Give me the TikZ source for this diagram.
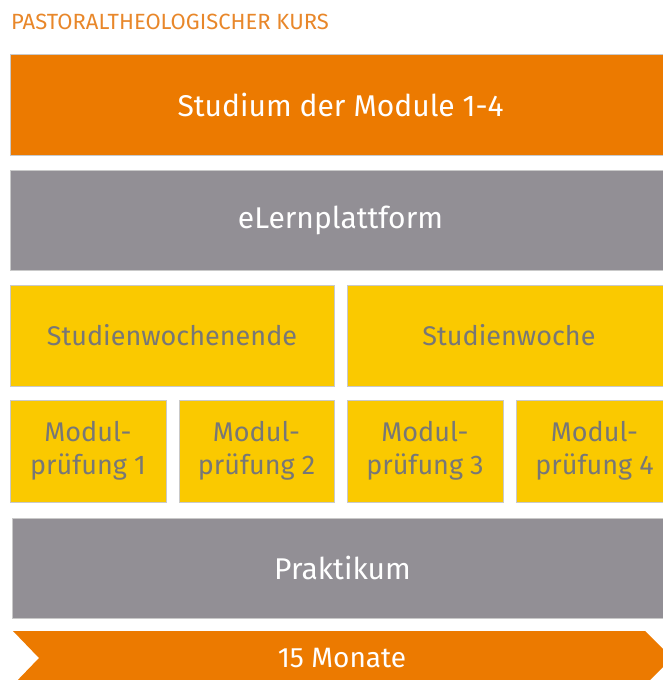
\documentclass[tikz,border=0pt]{standalone}
\usepackage{fontspec}
\setmainfont{Fira Sans}
\definecolor{korange}{HTML}{EC7A00}
\definecolor{ktitle}{HTML}{E8872A}
\definecolor{kgray}{HTML}{928F95}
\definecolor{kyellow}{HTML}{FAC900}
\definecolor{ktext}{HTML}{777777}
\definecolor{kedge}{HTML}{C9C9C9}
\tikzset{
  kbox/.style={draw=kedge, line width=0.8pt, inner sep=0pt},
  obox/.style={kbox, fill=korange, text=white, font=\fontsize{30}{36}\selectfont},
  gbox/.style={kbox, fill=kgray, text=white, font=\fontsize{30}{36}\selectfont},
  ybox/.style={kbox, fill=kyellow, text=ktext, align=center, font=\fontsize{27}{33}\selectfont},
}
\begin{document}
\begin{tikzpicture}[x=1pt,y=-1pt]
\useasboundingbox (0,0) rectangle (662,680);
\node[anchor=west, text=ktitle, inner sep=0pt, font=\fontsize{22}{26}\selectfont] (title) at (11,22) {PASTORALTHEOLOGISCHER KURS};
\node[obox, minimum width=661pt, minimum height=101pt] (studium) at (340.5,104.5) {Studium der Module 1-4};
\node[gbox, minimum width=661pt, minimum height=100pt] (elern) at (340.5,220) {eLernplattform};
\node[ybox, minimum width=324pt, minimum height=101pt] (swe) at (172,335.5) {Studienwochenende};
\node[ybox, minimum width=324pt, minimum height=101pt] (sw) at (509,335.5) {Studienwoche};
\node[ybox, minimum width=156pt, minimum height=102pt] (m1) at (88,451) {Modul-\\prüfung 1};
\node[ybox, minimum width=155pt, minimum height=102pt] (m2) at (256.5,451) {Modul-\\prüfung 2};
\node[ybox, minimum width=156pt, minimum height=102pt] (m3) at (425,451) {Modul-\\prüfung 3};
\node[ybox, minimum width=157pt, minimum height=102pt] (m4) at (594.5,451) {Modul-\\prüfung 4};
\node[gbox, minimum width=661pt, minimum height=100pt] (prak) at (342.5,568) {Praktikum};
\fill[korange] (13,631) -- (645,631) -- (672,658) -- (645,685) -- (13,685) -- (39,658) -- cycle;
\node[text=white, inner sep=0pt, font=\fontsize{28}{32}\selectfont] (monate) at (342,658) {15 Monate};
\end{tikzpicture}
\end{document}
